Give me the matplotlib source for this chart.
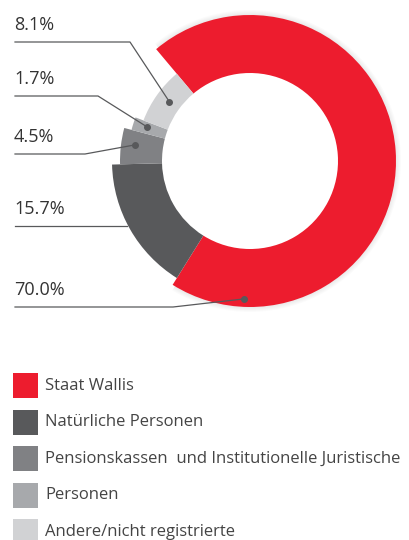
import matplotlib.pyplot as plt
from matplotlib.patches import Rectangle, Wedge
import numpy as np

plt.rcParams['font.family'] = ['Open Sans', 'DejaVu Sans']

# shares (%) in drawing order, clockwise from the top-left
shares = [70.0, 15.7, 4.5, 1.7, 8.1]
share_labels = ['70.0%', '15.7%', '4.5%', '1.7%', '8.1%']
colors = ['#ED1C2E', '#58595B', '#808184', '#A7A9AC', '#D1D2D4']
legend_labels = ['Staat Wallis', 'Natürliche Personen',
                 'Pensionskassen  und Institutionelle Juristische',
                 'Personen', 'Andere/nicht registrierte']

W, H = 409, 540
fig = plt.figure(figsize=(W / 100, H / 100), dpi=100)
ax = fig.add_axes([0, 0, 1, 1])

cx, cy = 250, H - 161
outer = [146, 138, 130, 122.5, 114]
inner = 88

wedges, _ = ax.pie(shares, colors=colors, startangle=130, counterclock=False,
                   center=(cx, cy), radius=outer[0],
                   wedgeprops=dict(linewidth=0))
for w, r in zip(wedges, outer):
    w.set_radius(r)
    w.set_width(r - inner)
    w.set_zorder(2)

# soft shadow around the red part only
red = wedges[0]
for k in range(5):
    ax.add_patch(Wedge((cx, cy), outer[0] + 1 + k, red.theta1 + 1, red.theta2 - 1,
                       width=10, color='#000000', alpha=0.015, lw=0, zorder=1))

# leader lines: dot (angle, radius) -> elbow -> left edge
dots = [(267.6, 138), None, (172, 116), (161.6, 109), (143.7, 100)]
elbows = [(173, 307), (127, 226), (85, 154), (98, 96), (130, 42)]
line_c = '#58595B'
for lab, d, (ex, ey) in zip(share_labels, dots, elbows):
    ey = H - ey
    pts = [(15, ey), (ex, ey)]
    if d is not None:
        a = np.deg2rad(d[0])
        px, py = cx + d[1] * np.cos(a), cy + d[1] * np.sin(a)
        pts.append((px, py))
        ax.plot(px, py, 'o', color=line_c, ms=4, zorder=4)
    xs, ys = zip(*pts)
    ax.plot(xs, ys, color=line_c, lw=0.9, zorder=3)
    ax.text(14, ey + 8, lab, fontsize=13, color='#333333', ha='left', va='bottom')

# legend
for i, (c, lab) in enumerate(zip(colors, legend_labels)):
    yc = H - (385.5 + i * 36.5)
    ax.add_patch(Rectangle((13, yc - 12.5), 25, 25, color=c, lw=0))
    ax.text(45, yc, lab, fontsize=12, color='#444444', ha='left', va='center')

ax.set_xlim(0, W)
ax.set_ylim(0, H)
ax.set_aspect('auto')
ax.axis('off')
fig.savefig('out.png', dpi=100)
